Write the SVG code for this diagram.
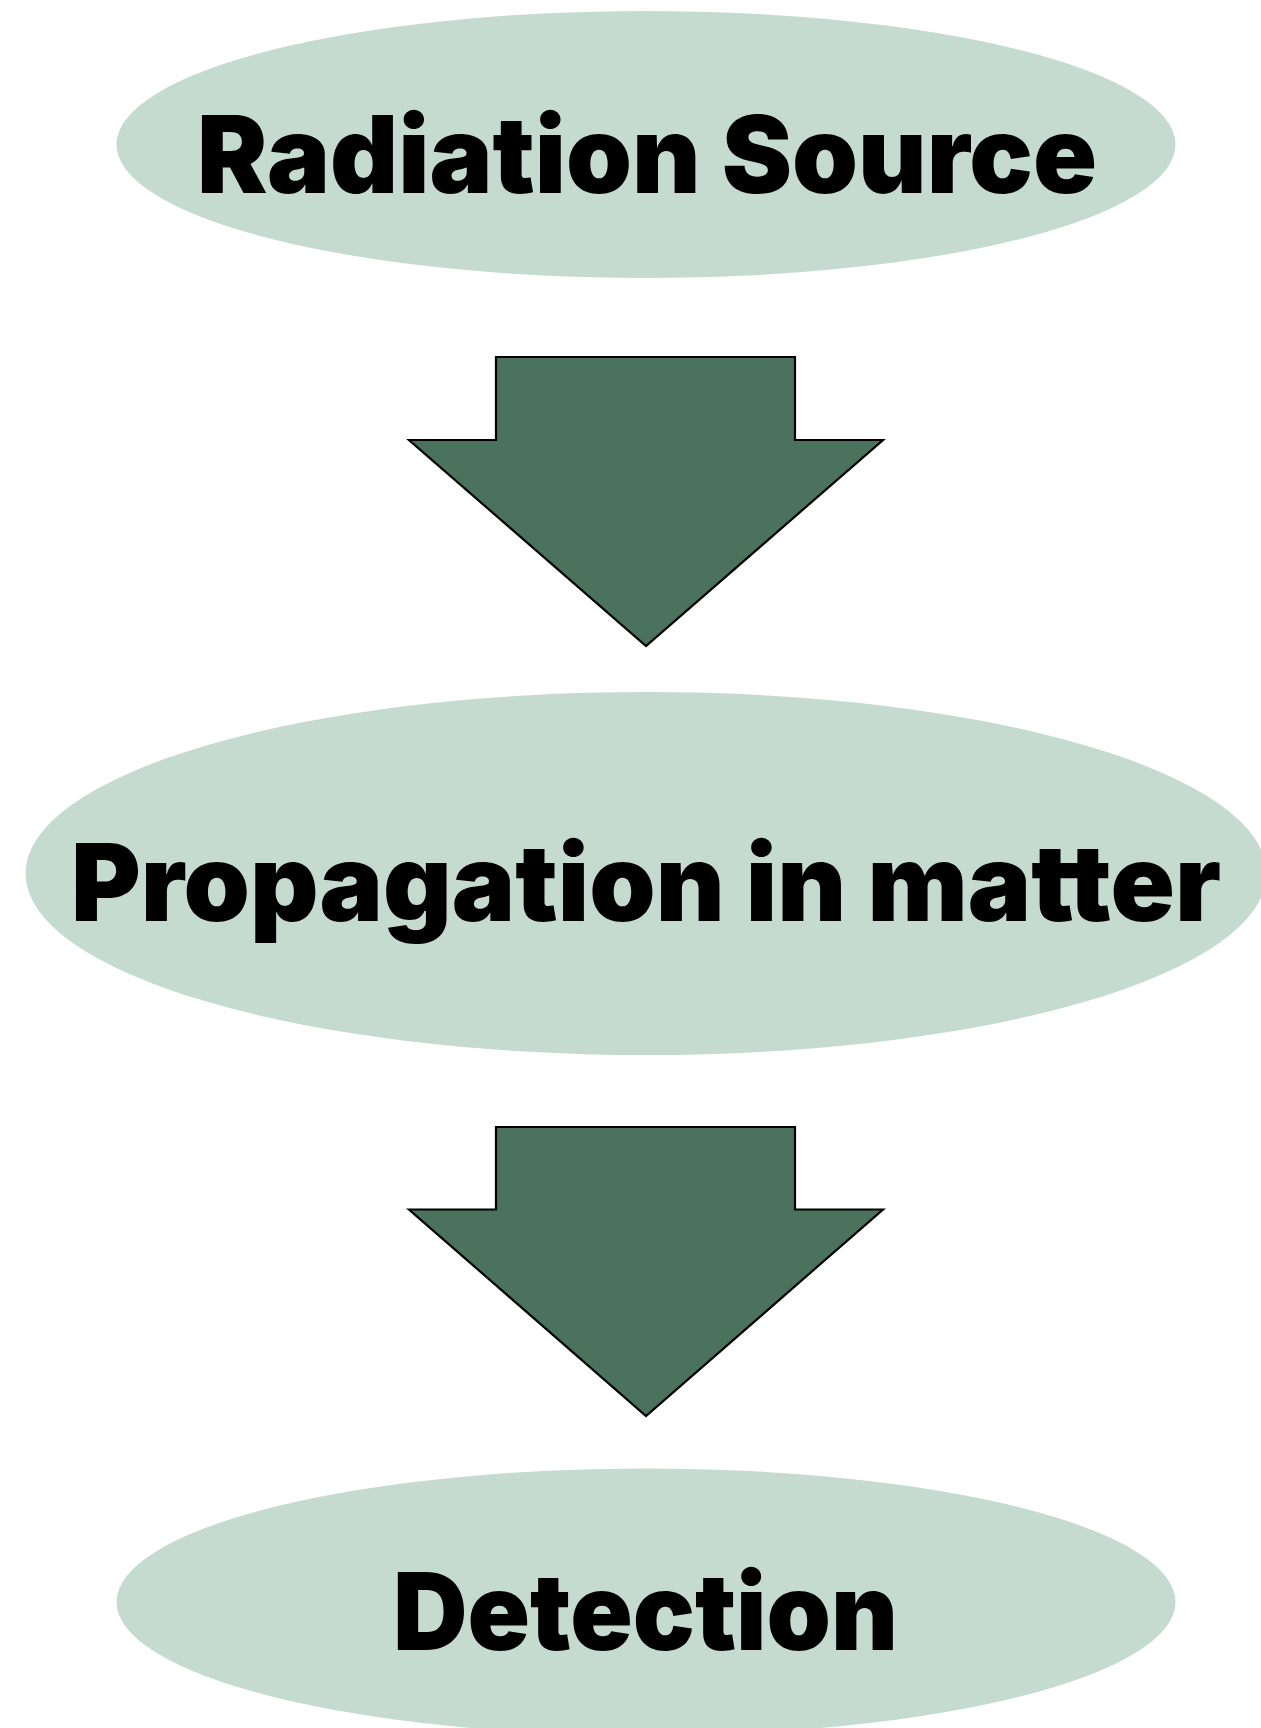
<svg xmlns="http://www.w3.org/2000/svg" width="1261" height="1728" viewBox="0 0 1261 1728">
  <style>
    .node { fill: #C5DBCF; stroke: none; }
    .label { font-family: Inter, "Liberation Sans", "DejaVu Sans", sans-serif; font-weight: 900; font-size: 107px; fill: #000000; text-anchor: middle; }
    .arrow { fill: #4A725D; stroke: #000000; stroke-width: 2.2; stroke-linejoin: miter; }
  </style>
  <rect x="0" y="0" width="1261" height="1728" fill="#FFFFFF"/>
  <g id="node-radiation-source">
    <ellipse class="node" cx="646" cy="144.5" rx="529.5" ry="133.5"/>
    <text class="label" x="647" y="193" textLength="900" lengthAdjust="spacingAndGlyphs">Radiation Source</text>
  </g>
  <g id="node-propagation">
    <ellipse class="node" cx="646" cy="873.5" rx="620.5" ry="181.5"/>
    <text class="label" x="646" y="921" textLength="1150" lengthAdjust="spacingAndGlyphs">Propagation in matter</text>
  </g>
  <g id="node-detection">
    <ellipse class="node" cx="646" cy="1602" rx="529.5" ry="133.5"/>
    <text class="label" x="645.5" y="1650" textLength="505" lengthAdjust="spacingAndGlyphs">Detection</text>
  </g>
  <g id="connectors">
    <polygon class="arrow" points="496,357 795,357 795,440 883,440 646,646 409,440 496,440"/>
    <polygon class="arrow" points="496,1127 795,1127 795,1209.5 883,1209.5 646,1416 409,1209.5 496,1209.5"/>
  </g>
</svg>
